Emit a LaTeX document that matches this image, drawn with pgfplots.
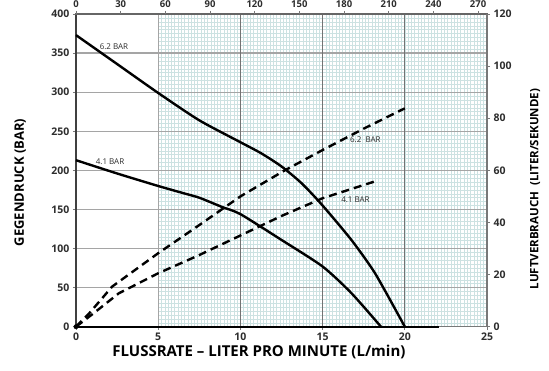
\documentclass[border=0pt]{standalone}
\usepackage{pgfplots}
\pgfplotsset{compat=1.18}
\usepackage{fontspec}
\setmainfont{Open Sans}

\definecolor{minorgrid}{RGB}{204,226,226}
\definecolor{hgrid}{RGB}{165,165,165}
\definecolor{vgrid}{RGB}{115,115,115}
\definecolor{framegray}{RGB}{120,120,120}
\definecolor{labelgray}{RGB}{45,45,45}

\pgfplotsset{
  chartbase/.style={
    scale only axis, width=411pt, height=312.7pt,
    at={(76pt,43.3pt)}, anchor=south west,
    xmin=0, xmax=25, clip=false,
    /pgf/number format/assume math mode=true,
    tick label style={font=\fontsize{10.5}{11}\selectfont\bfseries, text=labelgray},
    tick align=outside, major tick length=3pt,
    tick style={framegray, line width=0.8pt},
    axis line style={draw=none},
  },
}

\begin{document}
\begin{tikzpicture}[x=1pt,y=1pt]
\path[use as bounding box] (0,0) rectangle (549,370);

% left / bottom: Gegendruck gegen Flussrate
\begin{axis}[chartbase,
  ymin=0, ymax=400,
  axis x line*=bottom, axis y line*=left,
  xtick={0,5,...,25}, ytick={0,50,...,400},
  xlabel={FLUSSRATE – LITER PRO MINUTE (L/min)},
  xlabel style={at={(axis description cs:0.445,0)}, anchor=center, yshift=-25pt,
    font=\fontsize{15}{17}\selectfont\bfseries},
  ylabel={GEGENDRUCK (BAR)},
  ylabel style={at={(axis description cs:-0.136,0.461)}, anchor=center,
    font=\fontsize{13}{15}\selectfont\bfseries},
]
% fine grid in the shaded part
\pgfplotsinvokeforeach{5.2,5.4,...,24.81}{
  \draw[minorgrid, line width=0.45pt] (axis cs:#1,0) -- (axis cs:#1,400);}
\pgfplotsinvokeforeach{5,10,...,395}{
  \draw[minorgrid, line width=0.45pt] (axis cs:5,#1) -- (axis cs:25,#1);}
% major grid
\pgfplotsinvokeforeach{50,100,...,350}{
  \draw[hgrid, line width=1.2pt] (axis cs:0,#1) -- (axis cs:25,#1);}
\draw[hgrid, line width=1.2pt] (axis cs:5,0) -- (axis cs:5,400);
\pgfplotsinvokeforeach{10,15,20}{
  \draw[vgrid, line width=1pt] (axis cs:#1,0) -- (axis cs:#1,400);}
% frame
\draw[framegray, line width=1pt] (axis cs:0,0) -- (axis cs:25,0);
\draw[black, line width=2.4pt] (axis cs:0,0) -- (axis cs:22.1,0);
\draw[black!75, line width=2pt] (axis cs:0,0) -- (axis cs:0,400);
\draw[black!60, line width=2.2pt] (axis cs:-0.05,400) -- (axis cs:25.05,400);
\draw[framegray, line width=2pt] (axis cs:25,0) -- (axis cs:25,400);

% 6.2 bar
\addplot[black, line width=2.4pt, smooth, tension=0.4] coordinates {
  (0,373) (2.5,336) (5,299) (7.5,264) (10,236) (11.25,222) (12.5,205)
  (13.75,183) (15,155) (16.75,111) (18.2,68) (20,0)};
% 4.1 bar
\addplot[black, line width=2.4pt, smooth, tension=0.4] coordinates {
  (0,213) (2.5,196) (5,180) (6.5,171) (7.5,165) (8.9,153)
  (10,144) (12.5,111) (15,77) (16.75,43) (18.55,0)};

\node[font=\fontsize{8}{9}\selectfont, text=labelgray] at (axis cs:2.31,357.7) {6.2 BAR};
\node[font=\fontsize{8}{9}\selectfont, text=labelgray] at (axis cs:2.07,210.6) {4.1 BAR};
\node[font=\fontsize{8}{9}\selectfont, text=labelgray] at (axis cs:17.6,238.7) {6.2\ \ BAR};
\node[font=\fontsize{8}{9}\selectfont, text=labelgray] at (axis cs:17.0,162) {4.1 BAR};
\end{axis}

% right: Luftverbrauch
\begin{axis}[chartbase,
  ymin=0, ymax=120,
  axis x line=none, axis y line*=right,
  ytick={0,20,...,120},
  ylabel={LUFTVERBRAUCH\ \ (LITER/SEKUNDE)},
  ylabel style={at={(axis description cs:1.117,0.44)}, anchor=center,
    font=\fontsize{11.5}{13}\selectfont\bfseries},
]
\addplot[black, line width=2.4pt, dash pattern=on 8pt off 5pt] coordinates {
  (0,0) (0.8,5.1) (2.2,15.4) (5,28.2) (7.5,39) (10,50)
  (12.7,60) (15,67.8) (17.5,76) (20,83.8)};
\addplot[black, line width=2.4pt, dash pattern=on 8pt off 5pt] coordinates {
  (0,0) (1,4.8) (2.6,12.8) (5,20.5) (7.5,27.5) (10,35)
  (12.5,42.5) (15,49.3) (18.3,56)};
\addplot[black, only marks, mark=*, mark size=2.2pt] coordinates {(0,0)};
\end{axis}

% top scale
\begin{axis}[chartbase,
  xmin=0, xmax=276, ymin=0, ymax=1,
  axis x line*=top, axis y line=none,
  xtick={0,30,...,270},
  xticklabel style={font=\fontsize{9.5}{10}\selectfont\bfseries, yshift=-0.5pt},
]
\end{axis}
\end{tikzpicture}
\end{document}
